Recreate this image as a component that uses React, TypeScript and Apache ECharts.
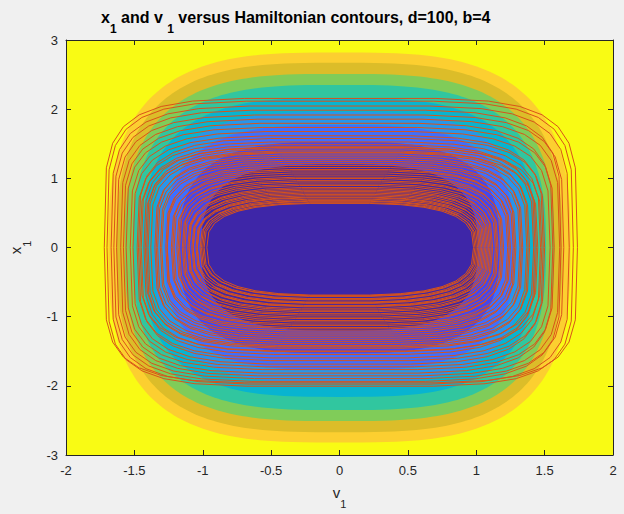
import React, { useEffect, useRef } from 'react';
import * as echarts from 'echarts';

// Hamiltonian contour boundaries (outer -> inner): extent in x1 at v1=0 and extent in v1 at x1=0
const levelXHalf = [2.82, 2.67, 2.51, 2.35, 2.16, 1.96, 1.77, 1.53, 1.2];
const levelVHalf = [1.69, 1.63, 1.57, 1.51, 1.44, 1.36, 1.28, 1.17, 1.01];
// fill colour inside each boundary (parula)
const levelColors = ['#fccf30', '#dcbd29', '#80cc59', '#31c69f', '#08b4d0', '#2796eb', '#3e6fff', '#4747eb', '#3e26a8'];
const outsideColor = '#f9fb14';

// trajectory loops: top x1, right v1, bottom x1, left v1
const loopXTop = [0.64, 0.65, 0.67, 0.68, 0.7, 0.72, 0.73, 0.75, 0.77, 0.79, 0.81, 0.83, 0.85, 0.87, 0.9, 0.92, 0.95, 0.97, 1.0, 1.02, 1.05, 1.08, 1.11, 1.13, 1.16, 1.19, 1.22, 1.25, 1.28, 1.31, 1.34, 1.37, 1.4, 1.43, 1.46, 1.49, 1.53, 1.58, 1.62, 1.68, 1.74, 1.8, 1.86, 1.92, 1.99, 2.05, 2.12, 2.16, 1.45, 1.38];
const loopVRight = [0.98, 1.0, 0.99, 1.01, 1.03, 1.02, 1.04, 1.06, 1.05, 1.07, 1.09, 1.08, 1.1, 1.12, 1.11, 1.14, 1.16, 1.15, 1.18, 1.2, 1.19, 1.23, 1.25, 1.24, 1.27, 1.29, 1.28, 1.32, 1.34, 1.33, 1.37, 1.39, 1.38, 1.42, 1.44, 1.43, 1.47, 1.5, 1.49, 1.54, 1.57, 1.56, 1.61, 1.64, 1.62, 1.68, 1.71, 1.74, 1.48, 1.45];
const loopXBottom = [-0.69, -0.71, -0.7, -0.74, -0.76, -0.75, -0.79, -0.81, -0.8, -0.84, -0.86, -0.85, -0.89, -0.91, -0.93, -0.96, -0.98, -1.01, -1.03, -1.06, -1.08, -1.11, -1.13, -1.16, -1.18, -1.21, -1.24, -1.27, -1.3, -1.33, -1.36, -1.39, -1.42, -1.46, -1.51, -1.55, -1.6, -1.64, -1.69, -1.73, -1.77, -1.82, -1.86, -1.9, -1.94, -1.98, -2.01, -1.96, -1.5, -1.44];
const loopVLeft = [-0.97, -0.99, -1.0, -1.02, -1.01, -1.04, -1.05, -1.04, -1.07, -1.08, -1.07, -1.1, -1.11, -1.1, -1.13, -1.15, -1.14, -1.17, -1.19, -1.18, -1.21, -1.23, -1.22, -1.26, -1.27, -1.26, -1.3, -1.31, -1.33, -1.35, -1.34, -1.38, -1.4, -1.41, -1.43, -1.45, -1.48, -1.47, -1.51, -1.53, -1.56, -1.58, -1.6, -1.63, -1.65, -1.67, -1.7, -1.72, -1.46, -1.42];

const xMin = -2, xMax = 2, xInterval = 0.5;
const yMin = -3, yMax = 3, yInterval = 1;

const CONTOUR_PV = 3.2;
const CONTOUR_PX = 2.8;
const LOOP_P_INNER = 3.0;
const LOOP_P_OUTER = 5.0;

const font = 'Liberation Sans, Arial, Helvetica, sans-serif';
const ink = '#262626';
const trajColor = '#d95319';

export default function App() {
  const ref = useRef<HTMLDivElement>(null);
  useEffect(() => {
    document.body.style.margin = '0';
    document.body.style.background = '#f0f0f0';
    if (!ref.current) return;
    const chart = echarts.init(ref.current, null, { renderer: 'svg' });

    const levelData = levelXHalf.map((xh, i) => [0, 0, xh, levelVHalf[i]]);
    const loopData = loopXTop.map((xt, i) => [0, 0, xt, loopVRight[i], loopXBottom[i], loopVLeft[i]]);
    const topMin = Math.min(...loopXTop);
    const topMax = Math.max(...loopXTop);

    const sp = (val: number, e: number) => Math.sign(val) * Math.pow(Math.abs(val), e);

    const axisCommon = {
      axisLine: { show: true, onZero: false, lineStyle: { color: ink, width: 1 } },
      axisTick: { show: true, inside: true, length: 5, lineStyle: { color: ink } },
      splitLine: { show: false },
    };
    const nameRich = {
      b: { fontFamily: font, fontSize: 15, color: ink, lineHeight: 24, verticalAlign: 'top' },
      s: { fontFamily: font, fontSize: 11, color: ink, lineHeight: 24, verticalAlign: 'bottom' },
    };

    const option: any = {
      animation: false,
      backgroundColor: '#f0f0f0',
      title: {
        text: '{b|x}{s|1}{b| and v }{s|1}{b| versus Hamiltonian contours, d=100, b=4}',
        left: 96,
        top: 4,
        textStyle: {
          rich: {
            b: { fontFamily: font, fontSize: 16, fontWeight: 'bold', color: '#000', lineHeight: 26, verticalAlign: 'top' },
            s: { fontFamily: font, fontSize: 12, fontWeight: 'bold', color: '#000', lineHeight: 26, verticalAlign: 'bottom' },
          },
        },
      },
      grid: { left: 64, right: 11, top: 40, bottom: 59, show: true, backgroundColor: outsideColor, borderWidth: 0 },
      xAxis: [
        {
          type: 'value', min: xMin, max: xMax, interval: xInterval, position: 'bottom', ...axisCommon,
          axisLabel: { color: ink, fontSize: 13, fontFamily: font, margin: 9 },
          name: '{b|v}{s|1}', nameLocation: 'middle', nameGap: 30, nameTextStyle: { rich: nameRich },
        },
        {
          type: 'value', min: xMin, max: xMax, interval: xInterval, position: 'top', ...axisCommon,
          axisLabel: { show: false },
        },
      ],
      yAxis: [
        {
          type: 'value', min: yMin, max: yMax, interval: yInterval, position: 'left', ...axisCommon,
          axisLabel: { color: ink, fontSize: 13, fontFamily: font, margin: 8 },
          name: '{b|x}{s|1}', nameLocation: 'middle', nameGap: 34, nameRotate: 90, nameTextStyle: { rich: nameRich },
        },
        {
          type: 'value', min: yMin, max: yMax, interval: yInterval, position: 'right', ...axisCommon,
          axisLabel: { show: false },
        },
      ],
      series: [
        {
          type: 'custom',
          coordinateSystem: 'cartesian2d',
          data: levelData,
          z: 1,
          renderItem: (params: any, api: any) => {
            const xh = api.value(2);
            const vh = api.value(3);
            const pts: number[][] = [];
            const M = 240;
            for (let k = 0; k < M; k++) {
              const t = (2 * Math.PI * k) / M;
              const v = vh * sp(Math.cos(t), 2 / CONTOUR_PV);
              const x = xh * sp(Math.sin(t), 2 / CONTOUR_PX);
              pts.push(api.coord([v, x]));
            }
            return { type: 'polygon', shape: { points: pts }, style: { fill: levelColors[params.dataIndex], stroke: 'none' } };
          },
        },
        {
          type: 'custom',
          coordinateSystem: 'cartesian2d',
          data: loopData,
          z: 3,
          renderItem: (params: any, api: any) => {
            const xt = api.value(2);
            const vr = api.value(3);
            const xb = Math.abs(api.value(4));
            const vl = Math.abs(api.value(5));
            const frac = (xt - topMin) / (topMax - topMin);
            const p = LOOP_P_INNER + (LOOP_P_OUTER - LOOP_P_INNER) * frac;
            const pts: number[][] = [];
            const N = 30;
            for (let k = 0; k <= N; k++) {
              const t = (2 * Math.PI * k) / N;
              const c = Math.cos(t), s = Math.sin(t);
              const A = c >= 0 ? vr : vl;
              const B = s >= 0 ? xt : xb;
              pts.push(api.coord([A * sp(c, 2 / p), B * sp(s, 2 / p)]));
            }
            return { type: 'polyline', shape: { points: pts }, style: { stroke: trajColor, lineWidth: 1, fill: 'none' } };
          },
        },
      ],
    };
    chart.setOption(option);
    return () => chart.dispose();
  }, []);
  return <div ref={ref} style={{ width: 624, height: 514 }} />;
}
